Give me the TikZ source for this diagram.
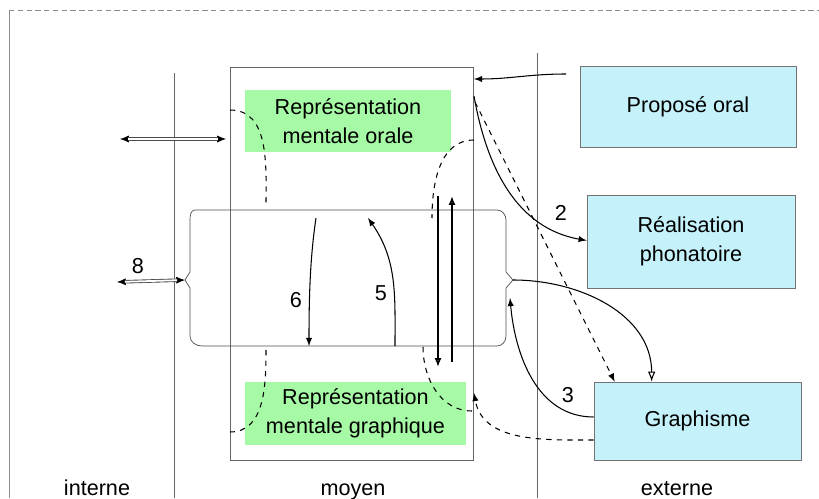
\documentclass[tikz,border=0pt]{standalone}
\usepackage{fontspec}
\setmainfont{Liberation Sans}
\usetikzlibrary{calc,arrows.meta}
\definecolor{vert}{RGB}{166,250,166}
\definecolor{bleu}{RGB}{196,241,250}
\tikzset{
  boite/.style={inner sep=0pt, align=center},
  gboite/.style={boite, fill=vert},
  bboite/.style={boite, fill=bleu, draw=black!55},
  lien/.style={black, line width=0.6pt},
  pointille/.style={lien, dashed},
  pointes/.style={black, line width=0.4pt, {Latex[length=5pt,width=4pt]}-{Latex[length=5pt,width=4pt]}},
  dbl/.style={draw=black!70, line width=0.5pt, double=white, double distance=1pt, shorten <=4.5pt, shorten >=4.5pt},
  gros/.style={black, line width=1.3pt}
}
\begin{document}
\begin{tikzpicture}[x=0.02cm,y=0.02cm,font=\fontsize{12.3}{16.5}\selectfont]
\useasboundingbox (0,0) rectangle (819,498);
% cadre et zones
\draw[black!45,densely dashed](9,488)--(819,488);
\draw[black!45](9,488)--(9,0);
\draw[black!60](174,425)--(174,0);
\draw[black!60](537,445)--(537,0);
\node[draw=black!60,minimum width=4.86cm,minimum height=7.86cm]at(351.5,234.5)(moyen){};
\node[anchor=base]at(97,3)(interne){interne};
\node[anchor=base]at(353,3)(lmoyen){moyen};
\node[anchor=base]at(677,3)(externe){externe};
% boites
\node[gboite,minimum width=4.12cm,minimum height=1.26cm]at(348,377)(orale){Représentation\\mentale orale};
\node[gboite,minimum width=4.42cm,minimum height=1.26cm]at(355.5,84.5)(graphique){Représentation\\mentale graphique};
\node[bboite,minimum width=4.32cm,minimum height=1.62cm]at(688,391.5)(propose){Proposé oral};
\node[bboite,minimum width=4.16cm,minimum height=1.86cm]at(691,256.5)(phon){Réalisation\\phonatoire};
\node[bboite,minimum width=4.14cm,minimum height=1.56cm]at(697.5,77)(graph){Graphisme};
% boite centrale
\draw[black!70](202,152)--(497,152)to[out=0,in=-90](506,162)--(506,210)--(513,218)coordinate(td)
  --(506,226)--(506,278)to[out=90,in=0](497,288)--(195,288)to[out=180,in=90](190,278)
  --(190,226)--(185,218)coordinate(tg)--(190,210)--(190,162)to[out=-90,in=180](202,152);
% points libres
\coordinate(ga)at(120,359);
\coordinate(gd)at(226,359);
\coordinate(gb)at(117,216);
\coordinate(h6)at(316,280);
\coordinate(b6)at(309,152);
\coordinate(b5)at(395,152);
\coordinate(h5)at(368,280);
\coordinate(mo1)at(230,388);
\coordinate(ct1)at(266,293);
\coordinate(cb1)at(266,148);
\coordinate(mo2)at(230,66);
\coordinate(mo3)at(474,358);
\coordinate(ct2)at(432,280);
\coordinate(cb2)at(423,151);
\coordinate(mo4)at(472,87);
\coordinate(mo5)at(474,105);
\coordinate(po)at(566,424);
\coordinate(mo6)at(474,419);
\coordinate(mo7)at(474,402);
\coordinate(mo8)at(475,396);
\coordinate(d3)at(510,200);
% fleches gauches
\draw[pointes](ga)--(gd);
\draw[dbl](ga)--(gd);
\draw[pointes](gb)--(tg);
\draw[dbl](gb)--(tg);
\node at(138,232)(n8){8};
% 5 et 6
\draw[lien,-latex](h6)..controls(310,240)and(309,200)..(b6);
\node at(296,198)(n6){6};
\draw[lien,-latex](b5)to[out=90,in=-55](h5);
\node at(381,205)(n5){5};
\draw[gros,-{Latex[open,length=5pt,width=4pt]}](438,302)--(438,131);
\draw[gros,-{Latex[open,length=5pt,width=4pt]}](452,136)--(452,302);
% pointilles
\draw[pointille](mo1)to[out=0,in=90](ct1);
\draw[pointille](cb1)to[out=-90,in=0](mo2);
\draw[pointille](mo3)to[out=180,in=90](ct2);
\draw[pointille](cb2)to[out=-90,in=180](mo4);
\draw[pointille,-latex]($(graph.west)+(0,-19)$)to[out=180,in=-80](mo5);
% externe
\draw[lien,-latex](po)to[out=180,in=0](mo6);
\draw[lien,-latex](mo7)to[out=-80,in=170]($(phon.west)+(0,1)$);
\node at(561,285)(n2){2};
\draw[pointille,-latex](mo8)--($(graph.north west)+(21,0)$);
\draw[lien,-{Latex[open]}](td)to[out=0,in=90]($(graph.north west)+(58,0)$);
\draw[lien,-latex]($(graph.west)+(0,4)$)to[out=180,in=-85](d3);
\node at(568,103)(n3){3};
\end{tikzpicture}
\end{document}
